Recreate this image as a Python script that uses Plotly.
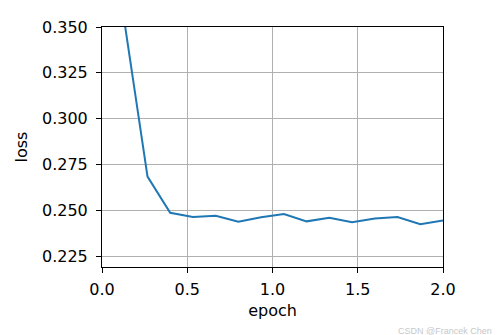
import plotly.graph_objects as go

epoch = [0.133, 0.267, 0.4, 0.533, 0.667, 0.8, 0.933, 1.067, 1.2, 1.333, 1.467, 1.6, 1.733, 1.867, 2.0]
loss = [0.352, 0.2684, 0.2487, 0.2464, 0.2471, 0.2438, 0.2462, 0.2480, 0.2440, 0.2460, 0.2435, 0.2455, 0.2464, 0.2424, 0.2445]
x_ticks = [0.0, 0.5, 1.0, 1.5, 2.0]
x_tick_labels = ["0.0", "0.5", "1.0", "1.5", "2.0"]
y_ticks = [0.225, 0.250, 0.275, 0.300, 0.325, 0.350]
y_tick_labels = ["0.225", "0.250", "0.275", "0.300", "0.325", "0.350"]

fig = go.Figure()
fig.add_trace(go.Scatter(x=epoch, y=loss, mode="lines",
                         line=dict(color="#1f77b4", width=2), showlegend=False))

font = dict(family="DejaVu Sans", size=16, color="black")
axis_common = dict(showline=True, linecolor="black", linewidth=1, mirror=True,
                   ticks="outside", ticklen=5, tickwidth=1, tickcolor="black",
                   showgrid=True, gridcolor="#b0b0b0", gridwidth=1, zeroline=False,
                   tickfont=font)
fig.update_layout(
    width=504, height=335,
    margin=dict(l=102, r=61, t=27, b=68),
    plot_bgcolor="white", paper_bgcolor="white",
    xaxis=dict(range=[0, 2], tickvals=x_ticks, ticktext=x_tick_labels,
               ticklabelstandoff=3,
               title=dict(text="epoch", font=font, standoff=6), **axis_common),
    yaxis=dict(range=[0.2191, 0.35], tickvals=y_ticks, ticktext=y_tick_labels,
               ticklabelstandoff=5,
               title=dict(text="loss", font=font, standoff=10), **axis_common),
)
fig.add_annotation(text="CSDN @Francek Chen", xref="paper", yref="paper",
                   x=1.15, y=-0.265, xanchor="right", yanchor="middle",
                   showarrow=False, font=dict(family="Liberation Sans", size=9, color="#c8c8c8"))
fig.write_html("out.html")
